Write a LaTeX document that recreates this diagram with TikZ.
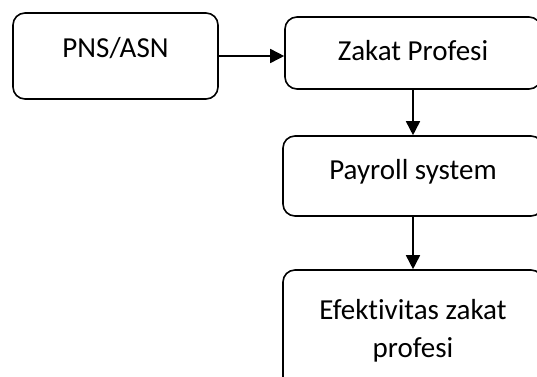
\documentclass[tikz,border=0pt]{standalone}
\usepackage{fontspec}
\setmainfont{Carlito}[Ligatures=NoCommon]
\usepackage{tikz}
\usetikzlibrary{positioning,arrows.meta}

\begin{document}
\begin{tikzpicture}[
  x=1pt, y=-1pt,
  box/.style={rectangle, draw, line width=1.6pt, rounded corners=12pt,
    inner sep=0pt, fill=white, font=\fontsize{29}{38}\selectfont},
  onerow/.style={box, text height=20pt, text depth=#1},
  onerow/.default=13pt,
  tworow/.style={box, align=center},
  flow/.style={line width=1.6pt, -{Triangle[length=14pt,width=14pt]}}
]
\clip (0,0) rectangle (537,376);

% Boxes
\node[onerow=17pt, minimum width=205pt, minimum height=86pt]  (pns)     at (115.5,56)  {PNS/ASN};
\node[onerow=6pt,  minimum width=256pt, minimum height=72pt]  (zakat)   at (413,53)    {Zakat Profesi};
\node[onerow=13pt, minimum width=260pt, minimum height=80pt]  (payroll) at (413,176)   {Payroll system};
\node[tworow, minimum width=260pt, minimum height=121pt] (efek)    at (413,330.5) {Efektivitas zakat\\profesi};

% --- arrows ---
\draw[flow] (pns.east) -- (pns.east -| zakat.west);
\draw[flow] (zakat) -- (payroll);
\draw[flow] (payroll) -- (efek);

\end{tikzpicture}
\end{document}
